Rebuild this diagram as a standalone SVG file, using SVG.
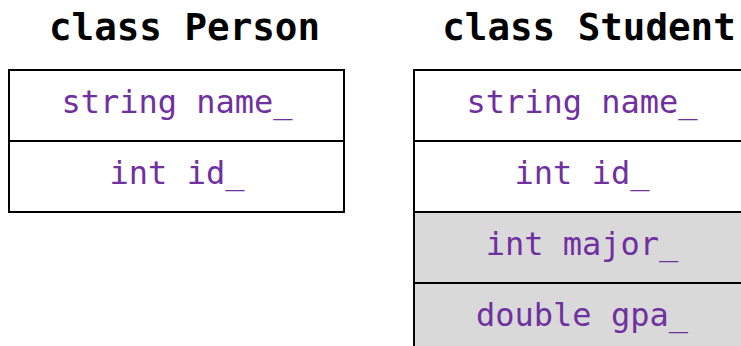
<svg xmlns="http://www.w3.org/2000/svg" width="741" height="346" viewBox="0 0 741 346">
  <style>
    .title { font-family: "DejaVu Sans Mono", "Liberation Mono", monospace; font-weight: bold; font-size: 37.5px; fill: #000; text-anchor: middle; }
    .field { font-family: "DejaVu Sans Mono", "Liberation Mono", monospace; font-size: 32px; fill: #7030A0; text-anchor: middle; }
    .cell { fill: #FFFFFF; stroke: #000; stroke-width: 2; }
    .cell.inherited { fill: #FFFFFF; }
    .cell.added { fill: #D9D9D9; }
  </style>
  <rect width="741" height="346" fill="#FFFFFF"/>

  <!-- Person class layout -->
  <g id="person">
    <text class="title" x="184.5" y="40">class Person</text>
    <rect class="cell" x="9" y="70" width="335" height="71"/>
    <rect class="cell" x="9" y="141" width="335" height="71"/>
    <text class="field" x="177" y="113">string name_</text>
    <text class="field" x="177" y="184">int id_</text>
  </g>

  <!-- Student class layout: inherited members, then its own -->
  <g id="student">
    <text class="title" x="589" y="40">class Student</text>
    <rect class="cell inherited" x="414" y="70" width="336" height="71"/>
    <rect class="cell inherited" x="414" y="141" width="336" height="71"/>
    <rect class="cell added" x="414" y="212" width="336" height="71"/>
    <rect class="cell added" x="414" y="283" width="336" height="71"/>
    <text class="field" x="582" y="113">string name_</text>
    <text class="field" x="582" y="184">int id_</text>
    <text class="field" x="582" y="255">int major_</text>
    <text class="field" x="582" y="326">double gpa_</text>
  </g>

  <g id="connectors"></g>
</svg>
